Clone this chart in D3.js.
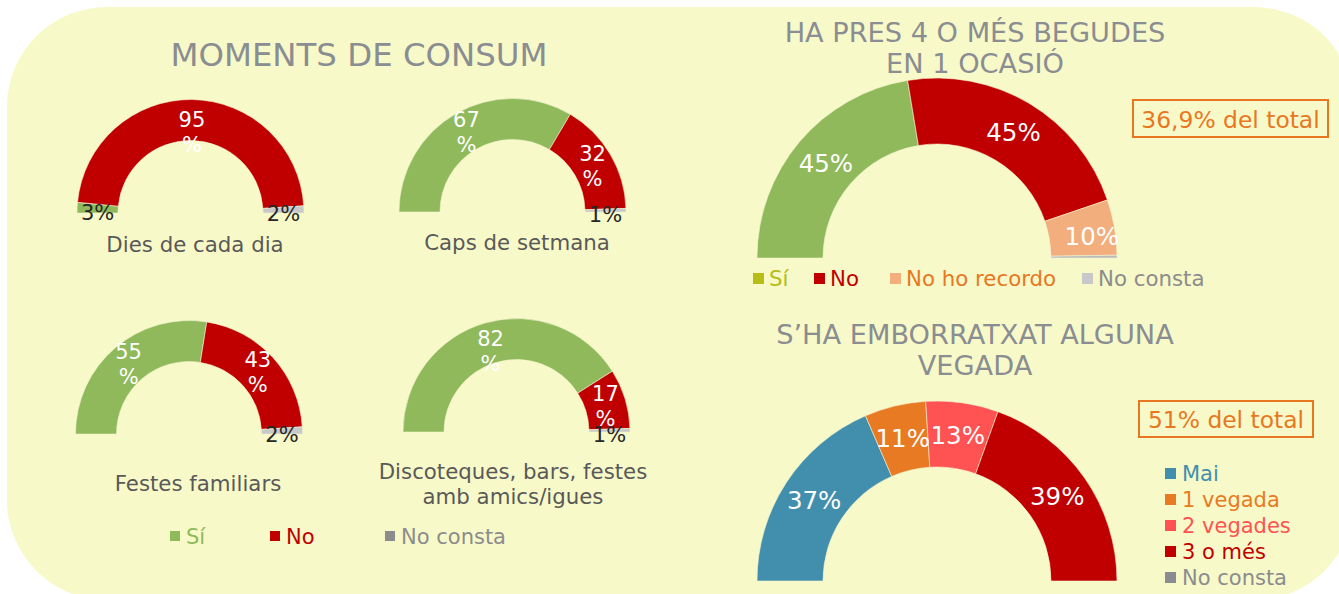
<!DOCTYPE html>
<html>
<head>
<meta charset="utf-8">
<script src="https://cdn.jsdelivr.net/npm/d3@7"></script>
<style>
  html, body { margin: 0; padding: 0; background: #ffffff; }
  svg { display: block; font-family: Verdana, "DejaVu Sans", sans-serif; }
</style>
</head>
<body>
<svg id="chart" width="1339" height="594"></svg>
<script>
// ---- Moments de consum (four small gauges) ----
const momentCategories = [
  ["Dies de cada dia"],
  ["Caps de setmana"],
  ["Festes familiars"],
  ["Discoteques, bars, festes", "amb amics/igues"]
];
const momentSeries = ["Sí", "No", "No consta"];
const momentSi = [3, 67, 55, 82];
const momentNo = [95, 32, 43, 17];
const momentNoConsta = [2, 1, 2, 1];

// ---- Ha pres 4 o més begudes en 1 ocasió ----
const begudesCategories = ["Sí", "No", "No ho recordo", "No consta"];
const begudesValues = [45, 45, 10, 0.5];
const begudesTotal = "36,9% del total";

// ---- S'ha emborratxat alguna vegada ----
const borratxeraCategories = ["Mai", "1 vegada", "2 vegades", "3 o més", "No consta"];
const borratxeraValues = [37, 11, 13, 39, 0];
const borratxeraTotal = "51% del total";

const bgYellow = "#f8f9c8";
const momentColors = d3.scaleOrdinal().domain(momentSeries).range(["#8fb95b", "#c00000", "#c8c8c8"]);
const momentLegendColors = d3.scaleOrdinal().domain(momentSeries).range(["#8fb95b", "#c00000", "#8c8c8c"]);
const momentLegendText = d3.scaleOrdinal().domain(momentSeries).range(["#8fb95b", "#c00000", "#8c8c8c"]);

const begudesColors = d3.scaleOrdinal().domain(begudesCategories).range(["#8fb95b", "#c00000", "#f2ae7d", "#b9b9b9"]);
const begudesLegendSq = d3.scaleOrdinal().domain(begudesCategories).range(["#b5bd16", "#c00000", "#f2ae7d", "#c8c8c8"]);
const begudesLegendTx = d3.scaleOrdinal().domain(begudesCategories).range(["#b5bd16", "#c00000", "#e87722", "#8c8c8c"]);

const borratxeraColors = d3.scaleOrdinal().domain(borratxeraCategories).range(["#428fad", "#e87a23", "#ff5252", "#c00000", "#8a8c8f"]);
const borratxeraLegendTx = d3.scaleOrdinal().domain(borratxeraCategories).range(["#428fad", "#e87a23", "#ff5252", "#c00000", "#8a8c8f"]);

const svg = d3.select("#chart");

// Pale rounded panel behind everything
svg.append("rect")
  .attr("x", 7).attr("y", 7)
  .attr("width", 1347).attr("height", 593)
  .attr("rx", 100).attr("ry", 100)
  .attr("fill", bgYellow);

const pie = d3.pie().sort(null).value(d => d.value)
  .startAngle(-Math.PI / 2).endAngle(Math.PI / 2);

// Draws one half-donut gauge centred on its baseline
function gauge(g, data, colors, inner, outer, labelFn) {
  const arc = d3.arc().innerRadius(inner).outerRadius(outer);
  const mid = d3.arc().innerRadius((inner + outer) / 2).outerRadius((inner + outer) / 2);
  const arcs = pie(data);
  g.selectAll("path.slice").data(arcs).join("path")
    .attr("class", "slice")
    .attr("d", arc)
    .attr("fill", d => colors(d.data.key))
    .attr("stroke", d => d.data.value > 0 ? "#f3f3d0" : "none")
    .attr("stroke-width", 0.6);
  arcs.forEach(d => { if (d.data.value > 0) labelFn(g, d, mid.centroid(d)); });
}

// ---- Left block ----
svg.append("text")
  .attr("x", 359).attr("y", 66)
  .attr("text-anchor", "middle")
  .attr("font-size", 32.4)
  .attr("fill", "#8a8d91")
  .text("MOMENTS DE CONSUM");

const smallCentres = [[190.5, 213], [512.5, 212], [189, 434], [516.5, 432]];
const smallCaptionX = [195, 517, 198, 513];
const smallCaptionY = [252, 250, 491, 479];

momentCategories.forEach((cat, i) => {
  const [cx, cy] = smallCentres[i];
  const g = svg.append("g").attr("transform", `translate(${cx},${cy})`);
  const data = [
    { key: "Sí", value: momentSi[i] },
    { key: "No", value: momentNo[i] },
    { key: "No consta", value: momentNoConsta[i] }
  ];
  gauge(g, data, momentColors, 72.5, 113.5, (gg, d, c) => {
    const v = d.data.value;
    if (v < 5) {
      gg.append("text")
        .attr("x", c[0]).attr("y", Math.max(c[1], -4) + 11)
        .attr("text-anchor", "middle")
        .attr("font-size", 21)
        .attr("fill", "#262626")
        .text(v + "%");
    } else {
      // labels near the crown sit a little lower, inside the band
      const ly = Math.max(c[1], -82);
      const t = gg.append("text")
        .attr("x", c[0]).attr("y", ly)
        .attr("text-anchor", "middle")
        .attr("font-size", 21)
        .attr("fill", "#ffffff");
      t.append("tspan").attr("x", c[0]).attr("dy", -4).text(v);
      t.append("tspan").attr("x", c[0]).attr("dy", 25).text("%");
    }
  });
  const cap = svg.append("text")
    .attr("text-anchor", "middle")
    .attr("font-size", 21.3)
    .attr("fill", "#595959");
  cat.forEach((line, k) => {
    cap.append("tspan")
      .attr("x", smallCaptionX[i])
      .attr("y", smallCaptionY[i] + k * 25)
      .text(line);
  });
});

// Legend for the small gauges
const momentLegendX = [170, 270, 385];
momentSeries.forEach((s, i) => {
  svg.append("rect")
    .attr("x", momentLegendX[i]).attr("y", 531)
    .attr("width", 10).attr("height", 10)
    .attr("fill", momentLegendColors(s));
  svg.append("text")
    .attr("x", momentLegendX[i] + 16).attr("y", 544)
    .attr("font-size", 21)
    .attr("fill", momentLegendText(s))
    .text(s);
});

// ---- Right top gauge ----
const titleTop = svg.append("text")
  .attr("text-anchor", "middle")
  .attr("font-size", 27.2)
  .attr("fill", "#8a8d91");
titleTop.append("tspan").attr("x", 975).attr("y", 42).text("HA PRES 4 O MÉS BEGUDES");
titleTop.append("tspan").attr("x", 975).attr("y", 73).text("EN 1 OCASIÓ");

const gTop = svg.append("g").attr("transform", "translate(937,258)");
gauge(gTop,
  begudesCategories.map((k, i) => ({ key: k, value: begudesValues[i] })),
  begudesColors, 114, 180,
  (gg, d, c) => {
    if (d.data.value < 5) return;
    const small = d.data.value < 20;
    gg.append("text")
      .attr("x", c[0] + (small ? 10 : 1)).attr("y", c[1] + (small ? 12 : 9))
      .attr("text-anchor", "middle")
      .attr("font-size", 24.5)
      .attr("fill", "#ffffff")
      .text(d.data.value + "%");
  });

const topLegendX = [753, 814, 890, 1082];
begudesCategories.forEach((s, i) => {
  svg.append("rect")
    .attr("x", topLegendX[i]).attr("y", 273)
    .attr("width", 11).attr("height", 11)
    .attr("fill", begudesLegendSq(s));
  svg.append("text")
    .attr("x", topLegendX[i] + 16).attr("y", 286)
    .attr("font-size", 21.3)
    .attr("fill", begudesLegendTx(s))
    .text(s);
});

// Total box
function totalBox(x, y, w, h, label) {
  svg.append("rect")
    .attr("x", x).attr("y", y).attr("width", w).attr("height", h)
    .attr("fill", "none")
    .attr("stroke", "#e87722")
    .attr("stroke-width", 2);
  svg.append("text")
    .attr("x", x + w / 2).attr("y", y + h / 2 + 9)
    .attr("text-anchor", "middle")
    .attr("font-size", 23.4)
    .attr("fill", "#e87722")
    .text(label);
}
totalBox(1133, 100, 195, 37, begudesTotal);

// ---- Right bottom gauge ----
const titleBottom = svg.append("text")
  .attr("text-anchor", "middle")
  .attr("font-size", 27.2)
  .attr("fill", "#8a8d91");
titleBottom.append("tspan").attr("x", 975).attr("y", 344).text("S’HA EMBORRATXAT ALGUNA");
titleBottom.append("tspan").attr("x", 975).attr("y", 375).text("VEGADA");

const gBottom = svg.append("g").attr("transform", "translate(937,581)");
gauge(gBottom,
  borratxeraCategories.map((k, i) => ({ key: k, value: borratxeraValues[i] })),
  borratxeraColors, 114, 180,
  (gg, d, c) => {
    gg.append("text")
      .attr("x", c[0]).attr("y", c[1] + 9)
      .attr("text-anchor", "middle")
      .attr("font-size", 24.5)
      .attr("fill", "#ffffff")
      .text(d.data.value + "%");
  });

totalBox(1139, 401, 174, 36, borratxeraTotal);

borratxeraCategories.forEach((s, i) => {
  svg.append("rect")
    .attr("x", 1165).attr("y", 468 + i * 26)
    .attr("width", 11).attr("height", 11)
    .attr("fill", borratxeraColors(s));
  svg.append("text")
    .attr("x", 1182).attr("y", 481 + i * 26)
    .attr("font-size", 21)
    .attr("fill", borratxeraLegendTx(s))
    .text(s);
});
</script>
</body>
</html>
